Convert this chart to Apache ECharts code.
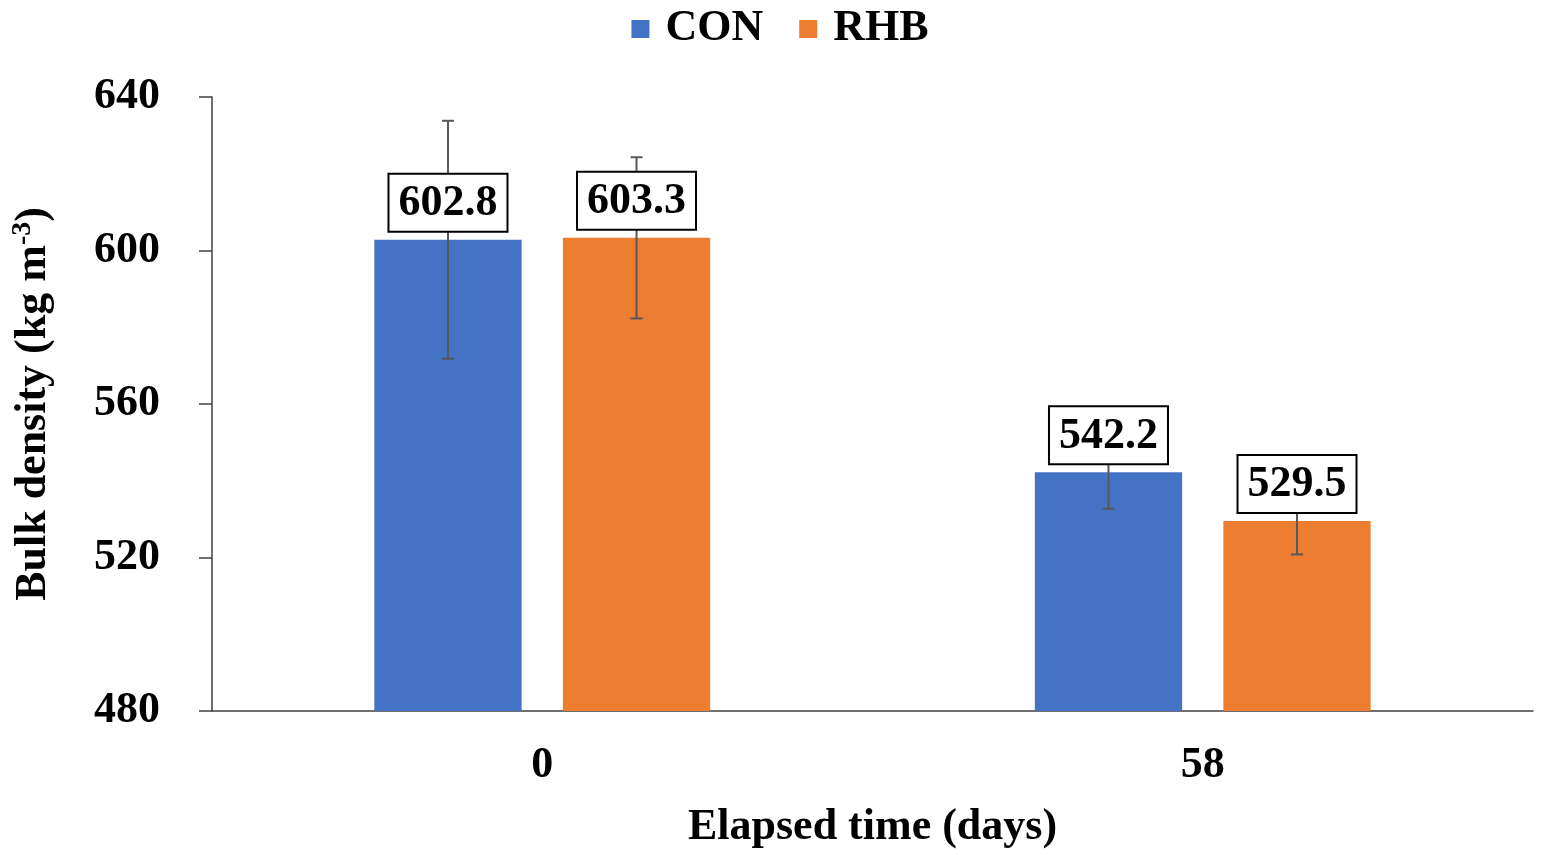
<!DOCTYPE html>
<html>
<head>
<meta charset="utf-8">
<script src="https://cdn.jsdelivr.net/npm/echarts@6/dist/echarts.min.js"></script>
<style>html,body{margin:0;padding:0;background:#fff}#c{width:1560px;height:855px}</style>
</head>
<body>
<div id="c"></div>
<script>
const categories = ['0', '58'];
const conValues = [602.8, 542.2];
const rhbValues = [603.3, 529.5];
const conErr = [31.0, 9.5];
const rhbErr = [21.0, 8.7];
const yTicks = [480, 520, 560, 600, 640];

const FONT = '"Liberation Serif", "Times New Roman", serif';
const BAR_W = 0.223, BAR_GAP = 0.28;

function errSeries(name, values, errs, sign) {
  return {
    name: name, type: 'custom', z: 5,
    data: values.map((v, i) => [i, v, errs[i]]),
    renderItem: function (params, api) {
      const i = api.value(0), v = api.value(1), e = api.value(2);
      const band = api.size([1, 0])[0];
      const bw = band * BAR_W, gap = bw * BAR_GAP;
      const off = sign * (bw + gap) / 2;
      const c = api.coord([i, v]);
      const x = c[0] + off;
      const yt = api.coord([i, v + e])[1];
      const yb = api.coord([i, v - e])[1];
      const cap = 6;
      const ls = {stroke: '#595959', lineWidth: 2};
      return {
        type: 'group',
        children: [
          {type: 'line', shape: {x1: x, y1: yt, x2: x, y2: yb}, style: ls, z2: 1},
          {type: 'line', shape: {x1: x - cap, y1: yt, x2: x + cap, y2: yt}, style: ls, z2: 1},
          {type: 'line', shape: {x1: x - cap, y1: yb, x2: x + cap, y2: yb}, style: ls, z2: 1},
          {type: 'text', z2: 10, style: {
            text: v.toFixed(1), x: x, y: c[1] - 9, align: 'center', verticalAlign: 'bottom',
            font: 'bold 44px ' + FONT, fill: '#000', backgroundColor: '#fff',
            borderColor: '#000', borderWidth: 2, padding: [7, 9, 5, 9]
          }}
        ]
      };
    }
  };
}

const chart = echarts.init(document.getElementById('c'));
chart.setOption({
  animation: false,
  backgroundColor: '#fff',
  textStyle: {fontFamily: FONT},
  legend: {
    data: ['CON', 'RHB'], top: 2, left: 'center',
    icon: 'rect', itemWidth: 18, itemHeight: 18, itemGap: 36,
    textStyle: {fontFamily: FONT, fontWeight: 'bold', fontSize: 44, color: '#000', padding: [0, 0, 0, 11]}
  },
  grid: {left: 212, right: 27, top: 97, bottom: 142, containLabel: false},
  xAxis: {
    type: 'category', data: categories,
    axisLine: {lineStyle: {color: '#404040', width: 1.5}},
    axisTick: {alignWithLabel: true, length: 10, lineStyle: {color: '#404040', width: 1.5}},
    axisLabel: {fontFamily: FONT, fontWeight: 'bold', fontSize: 44, color: '#000', margin: 33},
    name: 'Elapsed time (days)', nameLocation: 'middle', nameGap: 95,
    nameTextStyle: {fontFamily: FONT, fontWeight: 'bold', fontSize: 44, color: '#000'}
  },
  yAxis: {
    type: 'value', min: 480, max: 640, interval: 40,
    splitLine: {show: false},
    axisLine: {show: true, lineStyle: {color: '#404040', width: 1.5}},
    axisTick: {show: true, length: 13, lineStyle: {color: '#404040', width: 1.5}},
    axisLabel: {fontFamily: FONT, fontWeight: 'bold', fontSize: 44, color: '#000', margin: 52,
      formatter: v => yTicks.includes(v) ? String(v) : ''},
    name: '{a|Bulk density (kg m}{s|-3}{a|)}', nameLocation: 'middle', nameGap: 153,
    nameTextStyle: {
      rich: {
        a: {fontFamily: FONT, fontWeight: 'bold', fontSize: 44, color: '#000', lineHeight: 50},
        s: {fontFamily: FONT, fontWeight: 'bold', fontSize: 28, color: '#000', verticalAlign: 'top', lineHeight: 50, padding: [0, 0, 22, 0]}
      }
    }
  },
  series: [
    {name: 'CON', type: 'bar', data: conValues, barWidth: (BAR_W * 100) + '%', barGap: (BAR_GAP * 100) + '%',
      itemStyle: {color: '#4472C4'}, z: 2},
    {name: 'RHB', type: 'bar', data: rhbValues, barWidth: (BAR_W * 100) + '%',
      itemStyle: {color: '#ED7D31'}, z: 2},
    errSeries('CON-err', conValues, conErr, -1),
    errSeries('RHB-err', rhbValues, rhbErr, 1)
  ]
});
</script>
</body>
</html>
